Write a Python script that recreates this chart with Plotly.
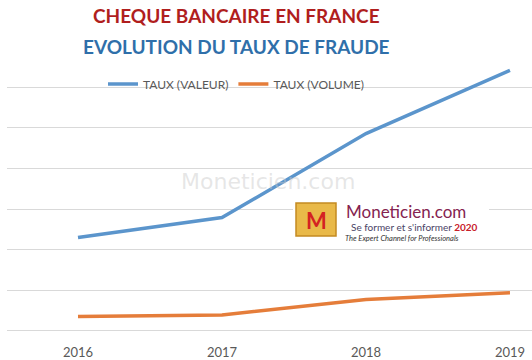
import plotly.graph_objects as go

years = ["2016", "2017", "2018", "2019"]
taux_valeur = [0.0230, 0.0279, 0.0486, 0.0642]   # % (valeur)
taux_volume = [0.0035, 0.0039, 0.0077, 0.0094]   # % (volume)
grid_vals = [0, 0.01, 0.02, 0.03, 0.04, 0.05, 0.06]

W, H = 532, 360
L, R, T, B = 7, 0, 48, 28

def px(x):
    return (x - L) / (W - L - R)

def py(y):
    return (H - B - y) / (H - T - B)

fig = go.Figure()
fig.add_trace(go.Scatter(x=years, y=taux_valeur, mode="lines", name="TAUX (VALEUR)",
                         line=dict(color="#5B95CC", width=3.5)))
fig.add_trace(go.Scatter(x=years, y=taux_volume, mode="lines", name="TAUX (VOLUME)",
                         line=dict(color="#E57D3A", width=3.5)))

fig.update_layout(
    width=W, height=H,
    margin=dict(l=L, r=R, t=T, b=B, pad=0),
    paper_bgcolor="white", plot_bgcolor="white",
    font=dict(family="Lato", color="#595959", size=13),
    showlegend=True,
    legend=dict(orientation="h", x=px(236), xanchor="center", y=py(84), yanchor="middle",
                font=dict(size=12, color="#595959"), bgcolor="rgba(0,0,0,0)",
                itemwidth=30, tracegroupgap=0),
    xaxis=dict(type="category", range=[-0.493, 3.153], showgrid=False, zeroline=False,
               showline=False, ticks="", tickfont=dict(size=13, color="#595959"),
               ticklabelstandoff=11),
    yaxis=dict(range=[-0.0003, 0.0697], tickvals=grid_vals, showticklabels=False, showgrid=True,
               gridcolor="#D9D9D9", gridwidth=1, zeroline=True, zerolinecolor="#D9D9D9",
               zerolinewidth=1, showline=False),
)

ann = []
ann.append(dict(text="<b>CHEQUE BANCAIRE EN FRANCE</b>", x=px(236), y=py(16), xref="paper", yref="paper",
                showarrow=False, xanchor="center", yanchor="middle",
                font=dict(family="Lato", size=19, color="#B01E1E")))
ann.append(dict(text="<b>EVOLUTION DU TAUX DE FRAUDE</b>", x=px(236), y=py(46), xref="paper", yref="paper",
                showarrow=False, xanchor="center", yanchor="middle",
                font=dict(family="Lato", size=19, color="#2F6FAA")))
# watermark
ann.append(dict(text="Moneticien.com", x=px(268), y=py(181), xref="paper", yref="paper",
                showarrow=False, xanchor="center", yanchor="middle",
                font=dict(family="DejaVu Sans", size=22, color="rgba(200,200,200,0.45)")))

shapes = []
shapes.append(dict(type="rect", xref="paper", yref="paper", x0=px(293), x1=px(489), y0=py(246), y1=py(197),
                   fillcolor="white", line=dict(width=0), layer="above"))
shapes.append(dict(type="rect", xref="paper", yref="paper", x0=px(296), x1=px(336), y0=py(236), y1=py(203),
                   fillcolor="#E9B949", line=dict(color="#C48B22", width=1.5), layer="above"))
fig.update_layout(shapes=shapes)

ann.append(dict(text="<b>M</b>", x=px(316), y=py(220), xref="paper", yref="paper", showarrow=False,
                xanchor="center", yanchor="middle", font=dict(family="Lato", size=22, color="#D42222")))
ann.append(dict(text="Moneticien.com", x=px(344), y=py(211), xref="paper", yref="paper", showarrow=False,
                xanchor="left", yanchor="middle", font=dict(family="Lato", size=17, color="#852350")))
ann.append(dict(text="Se former et s'informer <b><span style='color:#C8202A'>2020</span></b>", x=px(349), y=py(227),
                xref="paper", yref="paper", showarrow=False, xanchor="left", yanchor="middle",
                font=dict(family="Lato", size=10, color="#4A4466")))
ann.append(dict(text="<i>The Expert Channel for Professionals</i>", x=px(343), y=py(238), xref="paper", yref="paper",
                showarrow=False, xanchor="left", yanchor="middle",
                font=dict(family="Lato", size=7.5, color="#333333")))
fig.update_layout(annotations=ann)

fig.write_html("out.html")
